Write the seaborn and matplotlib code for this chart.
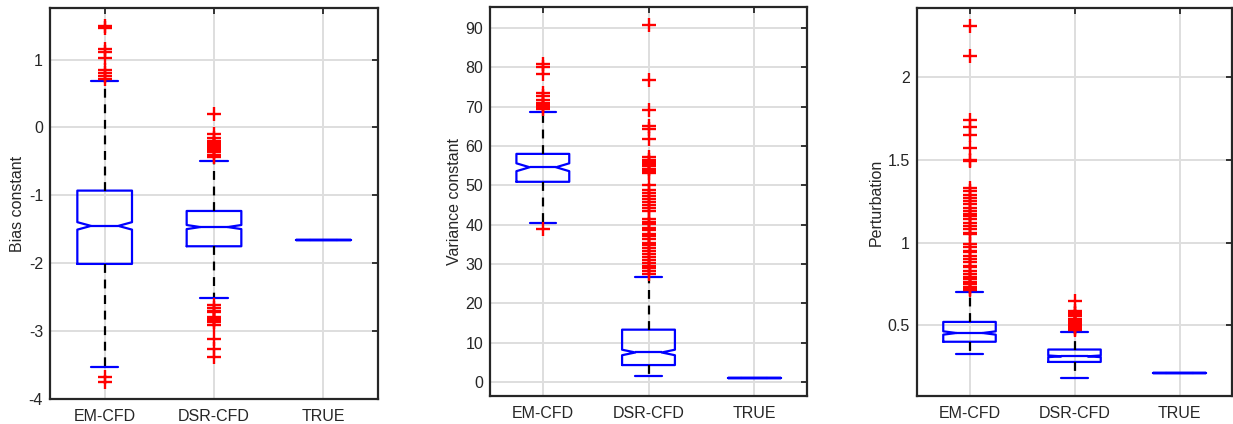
import matplotlib
matplotlib.use("Agg")
import matplotlib.pyplot as plt
import pandas as pd
import seaborn as sns

# ---------------------------------------------------------------------------
# Data
# ---------------------------------------------------------------------------

CATEGORIES = ["EM-CFD", "DSR-CFD", "TRUE"]

# Bias constant
BIAS_Q1 = [-2.01, -1.75, -1.66]
BIAS_MED = [-1.45, -1.467, -1.66]
BIAS_Q3 = [-0.93, -1.23, -1.66]
BIAS_WLO = [-3.53, -2.51, -1.66]
BIAS_WHI = [0.69, -0.49, -1.66]
BIAS_CILO = [-1.505, -1.497, -1.66]
BIAS_CIHI = [-1.395, -1.437, -1.66]
BIAS_FLIERS_EM = [1.50, 1.47, 1.16, 1.11, 1.02, 0.85, 0.80, 0.76, 0.72, -3.68, -3.75]
BIAS_FLIERS_DSR = [0.20, -0.10, -0.15, -0.20, -0.23, -0.26, -0.28, -0.30, -0.33,
                   -0.36, -0.40, -0.43, -2.61, -2.66, -2.70, -2.72, -2.79, -2.81,
                   -2.84, -2.87, -2.91, -3.11, -3.27, -3.38]

# Variance constant
VAR_Q1 = [50.9, 4.3, 1.0]
VAR_MED = [54.6, 7.5, 1.0]
VAR_Q3 = [58.0, 13.3, 1.0]
VAR_WLO = [40.5, 1.45, 1.0]
VAR_WHI = [68.7, 26.6, 1.0]
VAR_CILO = [53.6, 6.8, 1.0]
VAR_CIHI = [55.6, 8.2, 1.0]
VAR_FLIERS_EM = [80.8, 80.0, 78.3, 73.6, 72.6, 71.6, 71.0, 70.4, 69.9, 69.3, 39.0]
VAR_FLIERS_DSR = [90.7, 76.8, 69.2, 65.1, 64.3, 61.8,
                  57.1, 56.4, 55.9, 55.3, 54.8, 54.1, 53.6, 53.2,
                  50.2, 48.7, 48.1, 47.2, 46.6, 45.7, 45.1, 44.3, 43.6,
                  41.4, 40.7, 40.1, 39.2, 38.6, 37.7, 37.1, 36.3, 35.4,
                  34.9, 34.1, 33.2, 32.6, 31.7, 31.1, 30.3, 29.4, 28.9,
                  28.1, 27.4]

# Perturbation
PERT_Q1 = [0.40, 0.278, 0.214]
PERT_MED = [0.453, 0.312, 0.214]
PERT_Q3 = [0.52, 0.353, 0.214]
PERT_WLO = [0.324, 0.181, 0.214]
PERT_WHI = [0.70, 0.456, 0.214]
PERT_CILO = [0.443, 0.307, 0.214]
PERT_CIHI = [0.463, 0.317, 0.214]
PERT_FLIERS_EM = [2.31, 2.13, 1.74, 1.70, 1.65, 1.57, 1.50, 1.49,
                  1.33, 1.31, 1.29, 1.27, 1.25, 1.23, 1.21, 1.19, 1.17,
                  1.16, 1.14, 1.12, 1.10, 1.08, 1.06, 1.05, 0.99, 0.97,
                  0.95, 0.94, 0.92, 0.90, 0.88, 0.86, 0.85, 0.83, 0.81,
                  0.79, 0.78, 0.76, 0.75, 0.73, 0.72, 0.71]
PERT_FLIERS_DSR = [0.645, 0.585, 0.575, 0.565, 0.555, 0.54, 0.53, 0.52,
                   0.51, 0.50, 0.49, 0.48, 0.47]

# ---------------------------------------------------------------------------
# Style
# ---------------------------------------------------------------------------

sns.set_theme(style="whitegrid")
plt.rcParams["font.family"] = ["Liberation Sans", "DejaVu Sans"]
plt.rcParams["axes.unicode_minus"] = False

TEXT = "#262626"
GRID = "#dedede"
BLUE = "#0000ff"
RED = "#ff0000"
FONT_SIZE = 11.5


def make_stats(q1, med, q3, wlo, whi, cilo, cihi):
    return [dict(q1=q1[i], med=med[i], q3=q3[i], whislo=wlo[i], whishi=whi[i],
                 cilo=cilo[i], cihi=cihi[i], fliers=[], label=CATEGORIES[i])
            for i in range(len(CATEGORIES))]


def draw_panel(ax, stats, fliers_em, fliers_dsr, ylim, yticks, yticklabels,
               ylabel, label_x):
    ax.bxp(stats, positions=[1, 2, 3], widths=0.5, shownotches=True,
           showfliers=False, manage_ticks=False,
           boxprops=dict(color=BLUE, lw=1.6),
           whiskerprops=dict(color="black", lw=1.6, linestyle=(0, (4, 3))),
           capprops=dict(color=BLUE, lw=1.6),
           medianprops=dict(color=BLUE, lw=1.6))

    flier_df = pd.DataFrame({
        "pos": [1] * len(fliers_em) + [2] * len(fliers_dsr),
        "value": list(fliers_em) + list(fliers_dsr),
    })
    sns.scatterplot(data=flier_df, x="pos", y="value", marker="+", color=RED,
                    s=90, linewidth=1.7, ax=ax, zorder=4)

    ax.set_xlim(0.5, 3.5)
    ax.set_ylim(*ylim)
    ax.set_xticks([1, 2, 3])
    ax.set_xticklabels(CATEGORIES)
    ax.set_yticks(yticks)
    ax.set_yticklabels(yticklabels)
    ax.set_xlabel("")
    ax.set_ylabel(ylabel, fontsize=FONT_SIZE, color=TEXT)
    ax.yaxis.set_label_coords(label_x, 0.5)

    ax.set_axisbelow(True)
    ax.grid(True, color=GRID, lw=1.4)
    for sp in ax.spines.values():
        sp.set_color(TEXT)
        sp.set_linewidth(1.6)
    ax.tick_params(axis="both", direction="in", length=4, width=1.3,
                   colors=TEXT, labelsize=FONT_SIZE, top=True, right=True)
    ax.tick_params(axis="x", pad=7)
    ax.tick_params(axis="y", pad=5)


fig = plt.figure(figsize=(12.33, 4.24), dpi=100)
W, H = 1233.0, 424.0


def px_axes(left, right, top, bottom):
    return fig.add_axes([left / W, (H - bottom) / H, (right - left) / W, (bottom - top) / H])


ax1 = px_axes(50, 378, 8, 399)
ax2 = px_axes(490, 807, 7, 396)
ax3 = px_axes(917, 1232, 8, 396)

draw_panel(ax1,
           make_stats(BIAS_Q1, BIAS_MED, BIAS_Q3, BIAS_WLO, BIAS_WHI, BIAS_CILO, BIAS_CIHI),
           BIAS_FLIERS_EM, BIAS_FLIERS_DSR,
           (-4.0, 1.76), [-4, -3, -2, -1, 0, 1], ["-4", "-3", "-2", "-1", "0", "1"],
           "Bias constant", -0.076)

draw_panel(ax2,
           make_stats(VAR_Q1, VAR_MED, VAR_Q3, VAR_WLO, VAR_WHI, VAR_CILO, VAR_CIHI),
           VAR_FLIERS_EM, VAR_FLIERS_DSR,
           (-3.57, 95.35), list(range(0, 100, 10)), [str(v) for v in range(0, 100, 10)],
           "Variance constant", -0.088)

draw_panel(ax3,
           make_stats(PERT_Q1, PERT_MED, PERT_Q3, PERT_WLO, PERT_WHI, PERT_CILO, PERT_CIHI),
           PERT_FLIERS_EM, PERT_FLIERS_DSR,
           (0.072, 2.418), [0.5, 1, 1.5, 2], ["0.5", "1", "1.5", "2"],
           "Perturbation", -0.105)

fig.savefig("out.png", dpi=100, facecolor="white")
